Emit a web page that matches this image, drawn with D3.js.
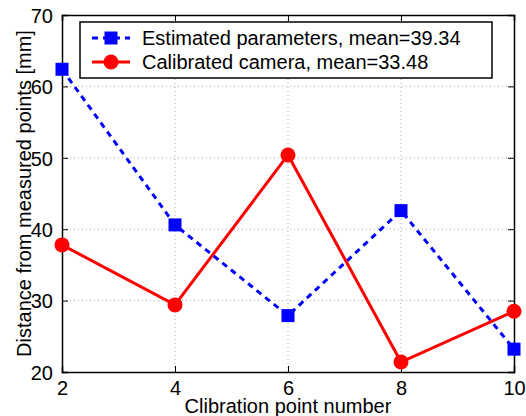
<!DOCTYPE html>
<html>
<head>
<meta charset="utf-8">
<script src="https://cdn.jsdelivr.net/npm/d3@7"></script>
<style>
  body { margin: 0; background: #fff; }
  text { font-family: "Liberation Sans", Arial, sans-serif; }
</style>
</head>
<body>
<svg id="chart" width="526" height="416"></svg>
<script>
// calibration points
var points = [2, 4, 6, 8, 10];
var estimated = [62.4, 40.6, 27.9, 42.6, 23.2];
var calibrated = [37.8, 29.4, 50.4, 21.4, 28.5];
var xTicks = [2, 4, 6, 8, 10];
var yTicks = [20, 30, 40, 50, 60, 70];
var legendLabels = ["Estimated parameters, mean=39.34", "Calibrated camera, mean=33.48"];

var svg = d3.select("#chart");
var pLeft = 62, pRight = 514, pTop = 15, pBottom = 372;

var x = d3.scaleLinear().domain([2, 10]).range([pLeft, pRight]);
var y = d3.scaleLinear().domain([20, 70]).range([pBottom, pTop]);

// grid (dotted)
var grid = svg.append("g");
grid.selectAll(".gx").data(xTicks.slice(1, -1)).enter().append("line")
    .attr("x1", d => x(d)).attr("x2", d => x(d))
    .attr("y1", pTop).attr("y2", pBottom)
    .attr("stroke", "#aaa").attr("stroke-width", 1).attr("stroke-dasharray", "1,3");
grid.selectAll(".gy").data(yTicks.slice(1, -1)).enter().append("line")
    .attr("x1", pLeft).attr("x2", pRight)
    .attr("y1", d => y(d)).attr("y2", d => y(d))
    .attr("stroke", "#aaa").attr("stroke-width", 1).attr("stroke-dasharray", "1,3");

// axes, ticks inward
var fs = "20px";
var gx = svg.append("g").attr("transform", `translate(0,${pBottom})`)
    .call(d3.axisBottom(x).tickValues(xTicks).tickSize(-6).tickPadding(9).tickFormat(d3.format("d")));
var gy = svg.append("g").attr("transform", `translate(${pLeft},0)`)
    .call(d3.axisLeft(y).tickValues(yTicks).tickSize(-6).tickPadding(9).tickFormat(d3.format("d")));
var gx2 = svg.append("g").attr("transform", `translate(0,${pTop})`)
    .call(d3.axisTop(x).tickValues(xTicks).tickSize(-6).tickFormat(""));
var gy2 = svg.append("g").attr("transform", `translate(${pRight},0)`)
    .call(d3.axisRight(y).tickValues(yTicks).tickSize(-6).tickFormat(""));
[gx, gy, gx2, gy2].forEach(function (g) {
    g.select(".domain").attr("stroke", "#000").attr("stroke-width", 1.5);
    g.selectAll(".tick line").attr("stroke", "#000");
    g.selectAll("text").style("font-size", fs).attr("fill", "#000");
});
gy.selectAll("text").attr("dy", "0.36em");

// lines
var line = d3.line().x((d, i) => x(points[i])).y(d => y(d));

svg.append("path").datum(estimated)
    .attr("d", line).attr("fill", "none")
    .attr("stroke", "#0000ff").attr("stroke-width", 3).attr("stroke-dasharray", "6,5");
svg.append("path").datum(calibrated)
    .attr("d", line).attr("fill", "none")
    .attr("stroke", "#ff0000").attr("stroke-width", 3);

var sq = 13;
svg.selectAll(".sq").data(estimated).enter().append("rect")
    .attr("x", (d, i) => x(points[i]) - sq / 2).attr("y", d => y(d) - sq / 2)
    .attr("width", sq).attr("height", sq).attr("fill", "#0000ff");
svg.selectAll(".ci").data(calibrated).enter().append("circle")
    .attr("cx", (d, i) => x(points[i])).attr("cy", d => y(d))
    .attr("r", 7.5).attr("fill", "#ff0000");

// legend
var lg = svg.append("g");
lg.append("rect").attr("x", 80).attr("y", 22).attr("width", 412).attr("height", 56)
    .attr("fill", "#fff").attr("stroke", "#000").attr("stroke-width", 1.5);
var rows = [
    {label: legendLabels[0], color: "#0000ff", dash: "6,5", mark: "sq"},
    {label: legendLabels[1], color: "#ff0000", dash: null, mark: "ci"}
];
rows.forEach(function (r, i) {
    var cy = 38 + i * 24;
    lg.append("line").attr("x1", 92).attr("x2", 130).attr("y1", cy).attr("y2", cy)
        .attr("stroke", r.color).attr("stroke-width", 3).attr("stroke-dasharray", r.dash);
    if (r.mark === "sq") {
        lg.append("rect").attr("x", 111 - sq / 2).attr("y", cy - sq / 2)
            .attr("width", sq).attr("height", sq).attr("fill", r.color);
    } else {
        lg.append("circle").attr("cx", 111).attr("cy", cy).attr("r", 7.5).attr("fill", r.color);
    }
    lg.append("text").attr("x", 142).attr("y", cy).attr("dy", "0.36em")
        .style("font-size", fs).text(r.label);
});

// axis labels
svg.append("text").attr("x", 288).attr("y", 413)
    .attr("text-anchor", "middle").style("font-size", fs).text("Clibration point number");
svg.append("text").attr("transform", `translate(31,${(pTop + pBottom) / 2}) rotate(-90)`)
    .attr("text-anchor", "middle").style("font-size", fs).text("Distance from measured points [mm]");
</script>
</body>
</html>
